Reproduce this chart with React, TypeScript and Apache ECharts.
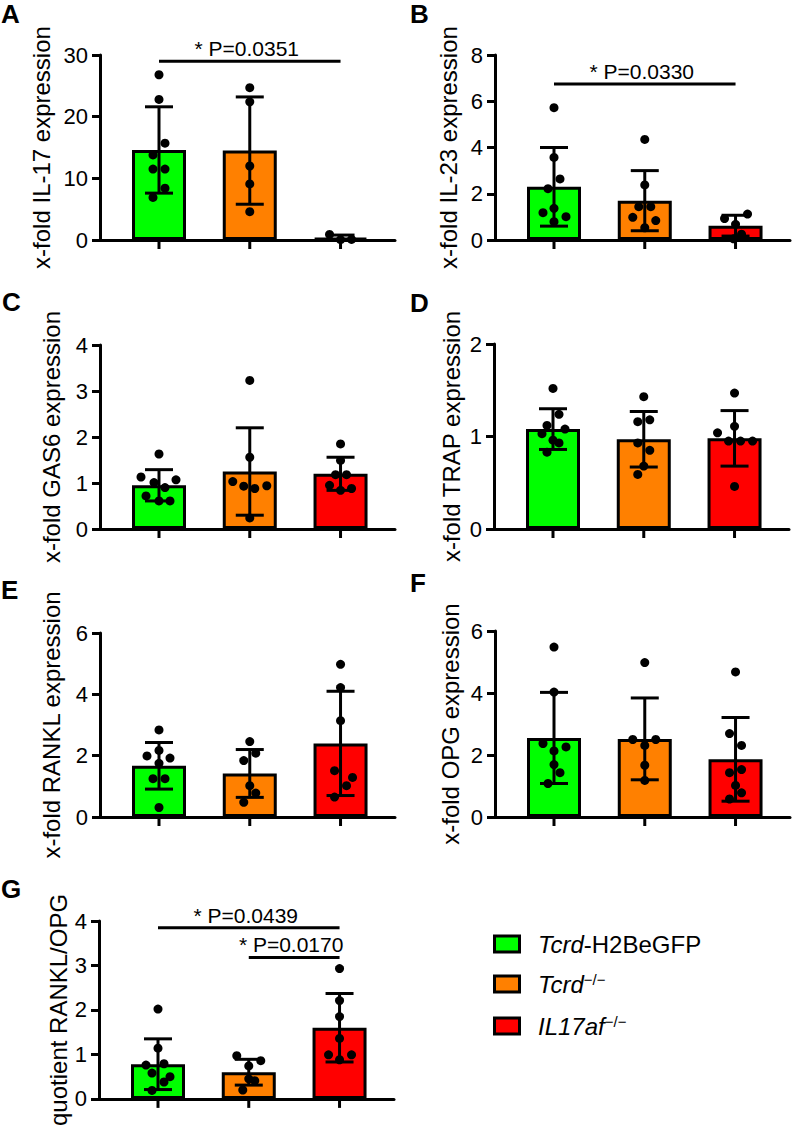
import React, { useEffect, useRef } from "react";
import * as echarts from "echarts";

const FONT = '"Liberation Sans", Arial, Helvetica, sans-serif';

// ---------- data ----------
const groupNames = ["Tcrd-H2BeGFP", "Tcrd−/−", "IL17af−/−"];
const groupColors = ["#00ff00", "#ff8000", "#ff0000"];
const legendRich = ["{i|Tcrd}{n|-H2BeGFP}", "{i|Tcrd}{s|−/−}", "{i|IL17af}{s|−/−}"];

// A: IL-17
const il17Mean = [14.6, 14.5, 0.35];
const il17Sd = [7.0, 8.7, 0.45];
const il17Points = [
  [26.8, 22.8, 15.7, 13.8, 11.5, 11.5, 8.4, 6.9],
  [24.7, 22.4, 12.0, 9.1, 4.6],
  [0.9, 0.05, 0.1],
];
// B: IL-23
const il23Mean = [2.3, 1.7, 0.62];
const il23Sd = [1.7, 1.3, 0.45];
const il23Points = [
  [5.72, 3.57, 2.64, 2.22, 1.18, 1.37, 1.01, 0.79],
  [4.35, 2.38, 1.44, 1.44, 0.98, 0.84, 0.53],
  [1.12, 0.93, 0.68, 0.25, 0.05],
];
// C: GAS6
const gas6Mean = [0.95, 1.25, 1.2];
const gas6Sd = [0.34, 0.95, 0.36];
const gas6Points = [
  [1.63, 1.13, 1.07, 1.01, 0.9, 0.72, 0.61, 0.61],
  [3.23, 1.56, 1.03, 0.93, 0.88, 0.94, 0.24],
  [1.85, 1.49, 1.18, 1.18, 0.95, 0.88, 0.84],
];
// D: TRAP
const trapMean = [1.08, 0.97, 0.98];
const trapSd = [0.22, 0.3, 0.3];
const trapPoints = [
  [1.52, 1.24, 1.12, 1.08, 1.03, 0.96, 0.93, 0.83],
  [1.43, 1.16, 1.18, 0.93, 0.85, 0.68, 0.59],
  [1.47, 1.11, 1.04, 0.95, 0.95, 0.95, 0.46],
];
// E: RANKL
const ranklMean = [1.67, 1.42, 2.4];
const ranklSd = [0.76, 0.78, 1.7];
const ranklPoints = [
  [2.84, 2.17, 1.99, 1.92, 1.75, 1.25, 1.25, 0.31],
  [2.46, 2.08, 1.84, 1.02, 0.78, 0.48],
  [4.98, 4.22, 3.14, 1.51, 1.29, 1.02, 0.65],
];
// F: OPG
const opgMean = [2.55, 2.52, 1.86];
const opgSd = [1.47, 1.32, 1.35];
const opgPoints = [
  [5.48, 4.03, 2.37, 2.26, 2.13, 1.69, 1.43, 1.08],
  [4.98, 2.5, 2.5, 2.31, 1.67, 1.18],
  [4.68, 2.69, 2.31, 1.53, 1.43, 1.02, 0.78, 0.58],
];
// G: RANKL/OPG
const ratioMean = [0.78, 0.6, 1.6];
const ratioSd = [0.57, 0.29, 0.77];
const ratioPoints = [
  [2.02, 1.14, 0.79, 0.76, 0.58, 0.5, 0.38, 0.19],
  [0.97, 0.86, 0.74, 0.45, 0.41, 0.2],
  [2.93, 2.21, 1.85, 1.36, 0.99, 0.99, 0.88],
];

// significance brackets
const sigA = [{ from: 0, to: 2, y: 29.0, label: "* P=0.0351" }];
const sigB = [{ from: 0, to: 2, y: 6.75, label: "* P=0.0330" }];
const sigG = [
  { from: 0, to: 2, y: 3.85, label: "* P=0.0439" },
  { from: 1, to: 2, y: 3.18, label: "* P=0.0170" },
];

// axis ticks
const ticksA = { max: 30, interval: 10 };
const ticksB = { max: 8, interval: 2 };
const ticksC = { max: 4, interval: 1 };
const ticksD = { max: 2, interval: 1 };
const ticksE = { max: 6, interval: 2 };
const ticksF = { max: 6, interval: 2 };
const ticksG = { max: 4, interval: 1 };

// ---------- layout (dot jitter in px, panel placement) ----------
const jitterA = [[0, 0, 6, -6, -6, 6, 6, -6], [0, 0, 0, 0, 0], [-11, 0, 11]];
const jitterB = [[0, 0, 6, -6, -11, 0, 12, 0], [0, 0, -6, 6, -12, 11, 0], [12, -11, 0, 6, -2]];
const jitterC = [[0, -18, 17, -5, 6, -13, 0, 11], [0, 0, -17, -6, 5, 17, 0], [0, 0, -5, 6, -11, 11, 0]];
const jitterD = [[0, 6, -6, 12, -11, 0, 6, -6], [0, -6, 6, -6, 6, 0, -6], [0, 0, -17, -6, 6, 18, 0]];
const jitterE = [[0, 0, -12, 11, 0, -6, 6, 0], [0, 6, -6, 0, 6, -6], [0, 0, 0, -6, 12, 6, -6]];
const jitterF = [[0, 0, -11, 12, 0, 0, 6, -6], [0, -12, 11, 0, 0, 0], [0, -6, 6, 6, -6, 0, 6, -6]];
const jitterG = [[0, 0, 6, -12, -6, 12, 6, -6], [-12, 12, 0, 0, 6, -6], [0, 0, 0, 0, -11, 12, 0]];

const X_MIN = -0.65;
const X_MAX = 2.6;
const GRID_W = 295;
const PX_PER_UNIT = GRID_W / (X_MAX - X_MIN);

const panels = [
  { letter: "A", name: "x-fold IL-17 expression", mean: il17Mean, sd: il17Sd, points: il17Points, jitter: jitterA, ticks: ticksA, sig: sigA, left: 100, top: 55, height: 185, nameGap: 47, lx: 1, ly: 14 },
  { letter: "B", name: "x-fold IL-23 expression", mean: il23Mean, sd: il23Sd, points: il23Points, jitter: jitterB, ticks: ticksB, sig: sigB, left: 495, top: 55, height: 185, nameGap: 35, lx: 410, ly: 14 },
  { letter: "C", name: "x-fold GAS6 expression", mean: gas6Mean, sd: gas6Sd, points: gas6Points, jitter: jitterC, ticks: ticksC, sig: [], left: 100, top: 345, height: 184, nameGap: 37, lx: 2, ly: 302 },
  { letter: "D", name: "x-fold TRAP expression", mean: trapMean, sd: trapSd, points: trapPoints, jitter: jitterD, ticks: ticksD, sig: [], left: 494, top: 344, height: 185, nameGap: 31, lx: 410, ly: 303 },
  { letter: "E", name: "x-fold RANKL expression", mean: ranklMean, sd: ranklSd, points: ranklPoints, jitter: jitterE, ticks: ticksE, sig: [], left: 100, top: 633, height: 184, nameGap: 37, lx: 1, ly: 590 },
  { letter: "F", name: "x-fold OPG expression", mean: opgMean, sd: opgSd, points: opgPoints, jitter: jitterF, ticks: ticksF, sig: [], left: 495, top: 631, height: 186, nameGap: 33, lx: 410, ly: 583 },
  { letter: "G", name: "quotient RANKL/OPG", mean: ratioMean, sd: ratioSd, points: ratioPoints, jitter: jitterG, ticks: ticksG, sig: sigG, left: 99, top: 921, height: 185, nameGap: 27, lx: 1, ly: 889 },
];

function buildOption() {
  const grid: any[] = [];
  const xAxis: any[] = [];
  const yAxis: any[] = [];
  const series: any[] = [];
  const graphic: any[] = [];

  panels.forEach((p, k) => {
    grid.push({ left: p.left, top: p.top, width: GRID_W, height: p.height });
    xAxis.push({
      type: "value",
      gridIndex: k,
      min: X_MIN,
      max: X_MAX,
      axisLine: { show: true, onZero: false, lineStyle: { color: "#000", width: 3 } },
      axisTick: { show: false },
      axisLabel: { show: false },
      splitLine: { show: false },
    });
    yAxis.push({
      type: "value",
      gridIndex: k,
      min: 0,
      max: p.ticks.max,
      interval: p.ticks.interval,
      name: p.name,
      nameLocation: "middle",
      nameGap: p.nameGap,
      nameTextStyle: { fontSize: 24, color: "#000", fontFamily: FONT },
      axisLine: { show: true, onZero: false, lineStyle: { color: "#000", width: 3 } },
      axisTick: { show: true, length: 8, lineStyle: { color: "#000", width: 3 } },
      axisLabel: { fontSize: 22, color: "#000", fontFamily: FONT, margin: 12 },
      splitLine: { show: false },
    });

    series.push({
      type: "bar",
      xAxisIndex: k,
      yAxisIndex: k,
      barWidth: 54,
      z: 2,
      itemStyle: { borderColor: "#000", borderWidth: 3 },
      data: p.mean.map((m, i) => ({ value: [i, m], itemStyle: { color: groupColors[i], borderColor: "#000", borderWidth: 3 } })),
    });

    const pts: number[][] = [];
    p.points.forEach((arr, i) => {
      arr.forEach((v, j) => pts.push([i + p.jitter[i][j] / PX_PER_UNIT, v]));
    });
    series.push({
      type: "scatter",
      xAxisIndex: k,
      yAxisIndex: k,
      symbol: "circle",
      symbolSize: 9,
      z: 4,
      itemStyle: { color: "#000", opacity: 1 },
      data: pts,
    });

    series.push({
      type: "custom",
      xAxisIndex: k,
      yAxisIndex: k,
      z: 5,
      clip: false,
      data: p.mean.map((m, i) => [i, m, p.sd[i]]),
      renderItem: (params: any, api: any) => {
        const x = api.value(0);
        const m = api.value(1);
        const s = api.value(2);
        const top = api.coord([x, m + s]);
        const bot = api.coord([x, Math.max(0, m - s)]);
        const base = api.coord([x, 0]);
        const hw = 14;
        const st = { stroke: "#000", lineWidth: 3 };
        return {
          type: "group",
          children: [
            { type: "line", shape: { x1: top[0], y1: top[1], x2: bot[0], y2: bot[1] }, style: st },
            { type: "line", shape: { x1: top[0] - hw, y1: top[1], x2: top[0] + hw, y2: top[1] }, style: st },
            { type: "line", shape: { x1: bot[0] - hw, y1: bot[1], x2: bot[0] + hw, y2: bot[1] }, style: st },
            { type: "line", shape: { x1: base[0], y1: base[1], x2: base[0], y2: base[1] + 9 }, style: st },
          ],
        };
      },
    });

    if (p.sig.length) {
      const sig = p.sig;
      series.push({
        type: "custom",
        xAxisIndex: k,
        yAxisIndex: k,
        z: 6,
        clip: false,
        data: sig.map((s) => [s.from, s.to, s.y]),
        renderItem: (params: any, api: any) => {
          const a = api.coord([api.value(0), api.value(2)]);
          const b = api.coord([api.value(1), api.value(2)]);
          return {
            type: "group",
            children: [
              { type: "line", shape: { x1: a[0], y1: a[1], x2: b[0], y2: b[1] }, style: { stroke: "#000", lineWidth: 3 } },
              {
                type: "text",
                x: (a[0] + b[0]) / 2 - 3,
                y: a[1] - 2,
                style: {
                  text: sig[params.dataIndex].label,
                  fill: "#000",
                  fontSize: 21,
                  fontFamily: FONT,
                  align: "center",
                  verticalAlign: "bottom",
                },
              },
            ],
          };
        },
      });
    }

    graphic.push({
      type: "text",
      x: p.lx,
      y: p.ly,
      style: { text: p.letter, fill: "#000", fontSize: 26, fontWeight: "bold", fontFamily: FONT, align: "left", verticalAlign: "middle" },
    });
  });

  const rowY = [944, 984, 1026];
  groupNames.forEach((n, i) => {
    graphic.push({
      type: "rect",
      shape: { x: 494.5, y: rowY[i] - 8, width: 25, height: 16 },
      style: { fill: groupColors[i], stroke: "#000", lineWidth: 3 },
    });
    graphic.push({
      type: "text",
      x: 538,
      y: rowY[i],
      style: {
        text: legendRich[i],
        fill: "#000",
        verticalAlign: "middle",
        align: "left",
        rich: {
          i: { fontStyle: "italic", fontSize: 24, fontFamily: FONT, fill: "#000" },
          n: { fontSize: 24, fontFamily: FONT, fill: "#000" },
          s: { fontSize: 15, fontFamily: FONT, fill: "#000", verticalAlign: "top" },
        },
      },
    });
  });

  return { animation: false, backgroundColor: "#fff", grid, xAxis, yAxis, series, graphic };
}

export default function App() {
  const ref = useRef<HTMLDivElement>(null);
  useEffect(() => {
    if (!ref.current) return;
    const chart = echarts.init(ref.current, undefined, { renderer: "svg" });
    chart.setOption(buildOption() as any);
    return () => chart.dispose();
  }, []);
  return <div ref={ref} style={{ position: "absolute", left: 0, top: 0, width: 800, height: 1128 }} />;
}
